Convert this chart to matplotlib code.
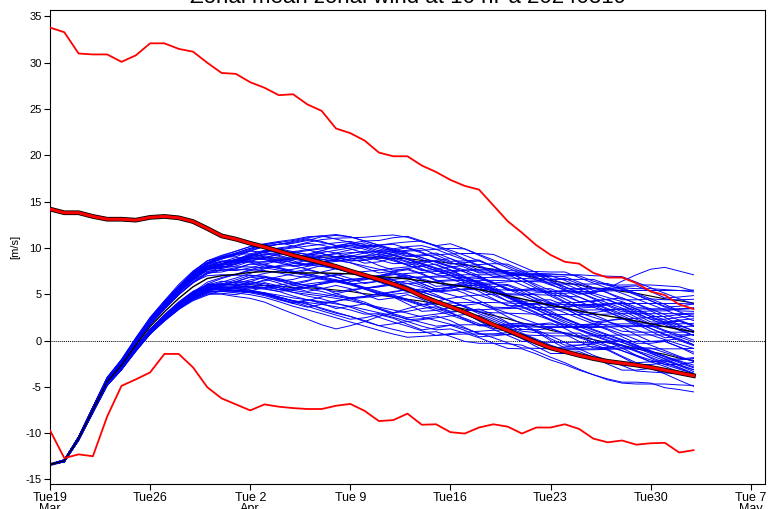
import matplotlib
matplotlib.use("Agg")
import matplotlib.pyplot as plt
import matplotlib.patheffects as pe
import numpy as np

# ---- data ----
days = list(range(46))  # Tue 19 Mar 2024 + n days

clim_max = [33.8,33.3,31.0,30.9,30.9,30.1,30.8,32.1,32.1,31.5,
            31.2,30.0,28.9,28.8,27.9,27.3,26.5,26.6,25.5,24.8,
            22.9,22.4,21.6,20.3,19.9,19.9,18.9,18.2,17.35,16.7,
            16.3,14.6,12.9,11.65,10.3,9.25,8.5,8.3,7.3,6.8,
            6.8,6.2,5.3,4.9,3.9,3.4]

clim_min = [-9.7,-12.7,-12.3,-12.5,-8.2,-4.9,-4.2,-3.45,-1.45,-1.45,
            -2.9,-5.05,-6.25,-6.9,-7.55,-6.9,-7.15,-7.3,-7.4,-7.4,
            -7.05,-6.85,-7.6,-8.7,-8.6,-7.9,-9.1,-9.05,-9.9,-10.05,
            -9.4,-9.05,-9.3,-10.05,-9.4,-9.4,-9.05,-9.55,-10.6,-11.0,
            -10.8,-11.25,-11.1,-11.05,-12.1,-11.85]

clim_mean = [14.2,13.8,13.8,13.4,13.1,13.1,13.0,13.3,13.4,13.25,
             12.85,12.1,11.3,10.95,10.5,10.1,9.65,9.2,8.8,8.4,
             8.0,7.5,7.05,6.6,6.1,5.55,4.8,4.2,3.65,3.05,
             2.4,1.7,1.1,0.45,-0.2,-0.8,-1.2,-1.6,-1.95,-2.25,
             -2.45,-2.65,-2.9,-3.2,-3.5,-3.8]

ens_mean = [-13.4,-13.0,-10.6,-7.5,-4.45,-2.65,-0.5,1.5,3.1,4.55,
            5.8,6.7,7.0,7.15,7.35,7.45,7.4,7.3,7.3,7.3,
            7.25,7.2,7.05,6.9,6.8,6.65,6.45,6.25,6.05,5.8,
            5.5,5.2,4.85,4.5,4.15,3.8,3.5,3.2,2.9,2.65,
            2.4,2.1,1.8,1.5,1.2,0.95]

# ensemble spread (half-width of the thin black band around the mean)
ens_spread = [0.1,0.1,0.15,0.3,0.4,0.5,0.6,0.8,0.9,1.0,
              1.1,1.2,1.3,1.4,1.5,1.5,1.5,1.6,1.6,1.7,
              1.8,1.9,2.0,2.0,2.1,2.2,2.2,2.3,2.3,2.4,
              2.4,2.5,2.5,2.6,2.6,2.7,2.7,2.8,2.8,2.9,
              2.9,3.0,3.0,3.0,3.1,3.1]

# hand-read deviation of each ensemble member from the ensemble mean
member_offsets = [
 [0,0.1,0.1,0.2,0.3,0.4,0.5,0.6,0.7,0.9, 1.0,1.2,1.1,1.3,1.5,1.4,1.2,1.6,1.8,1.5, 1.3,1.6,2.0,1.8,1.5,1.7,2.1,2.3,2.0,1.8, 2.2,2.5,2.3,2.6,2.4,2.2,2.0,1.8,2.2,3.0, 4.0,5.0,5.9,6.4,6.3,6.15],
 [0,0.1,0.2,0.3,0.4,0.5,0.7,0.8,1.0,1.2, 1.5,1.6,1.5,1.6,1.8,2.2,2.6,2.9,3.3,3.6, 3.8,3.9,4.1,4.4,4.6,4.5,4.2,4.0,4.4,4.1, 3.7,3.3,3.0,2.7,2.9,3.2,3.0,2.6,2.2,2.0, 1.8,1.5,1.6,1.9,2.2,2.5],
 [0,-0.1,-0.2,-0.3,-0.4,-0.5,-0.7,-0.8,-1.0,-1.2, -1.3,-1.5,-1.6,-1.8,-2.0,-2.3,-2.7,-3.0,-3.2,-3.4, -3.6,-3.9,-4.2,-4.0,-4.3,-4.6,-4.9,-5.1,-4.8,-5.0, -5.2,-5.5,-5.7,-5.4,-5.6,-5.9,-6.1,-6.4,-6.6,-6.8, -6.9,-6.6,-6.4,-6.6,-6.5,-6.5],
 [0,0,-0.1,-0.2,-0.3,-0.4,-0.6,-0.7,-0.9,-1.1, -1.4,-1.7,-2.0,-2.4,-2.8,-3.3,-3.9,-4.4,-5.0,-5.6, -6.0,-5.6,-5.0,-4.3,-3.8,-3.2,-2.6,-2.0,-1.5,-1.0, -0.6,-0.2,0.2,0.5,0.8,1.1,1.3,1.5,1.2,0.8, 0.5,0.2,-0.1,-0.4,-0.6,-0.9],
 [0,0.1,0,-0.1,-0.2,-0.3,-0.4,-0.5,-0.7,-0.9, -1.2,-1.4,-1.3,-1.5,-1.9,-2.4,-2.8,-3.0,-3.3,-3.9, -4.3,-4.6,-4.9,-5.3,-5.6,-5.8,-5.6,-5.3,-5.6,-5.9, -5.8,-5.5,-5.2,-5.0,-5.3,-5.6,-5.9,-6.3,-6.6,-6.9, -7.0,-6.8,-6.5,-6.2,-6.0,-5.8],
 [0,0.1,0.2,0.3,0.5,0.6,0.8,1.0,1.2,1.5, 1.7,1.9,2.0,2.2,2.5,2.8,3.0,3.2,3.5,3.9, 4.1,4.0,3.7,3.9,4.3,4.6,4.3,3.9,3.5,3.0, 2.6,2.3,2.5,2.8,3.1,3.4,3.6,3.8,3.5,3.3, 3.6,3.9,4.2,4.4,4.6,4.4],
 [0,0,0.1,0.1,0.2,0.3,0.3,0.4,0.5,0.7, 0.9,1.0,0.8,0.9,1.2,1.5,1.9,2.2,2.0,1.7, 1.5,1.9,2.4,2.8,3.1,3.5,3.8,3.6,3.2,2.9, 2.5,2.1,1.8,1.5,1.2,1.5,1.9,2.3,2.7,3.0, 3.3,3.5,3.8,4.0,4.2,4.3],
 [0,0,-0.1,-0.1,-0.2,-0.2,-0.3,-0.4,-0.5,-0.6, -0.8,-0.9,-1.1,-1.0,-0.8,-0.6,-0.9,-1.3,-1.7,-2.0, -2.4,-2.6,-2.3,-1.9,-1.5,-1.2,-0.9,-1.3,-1.8,-2.2, -2.6,-2.9,-3.2,-3.5,-3.3,-3.0,-2.7,-2.4,-2.8,-3.2, -3.5,-3.8,-4.1,-4.3,-4.6,-4.8],
 [0,0.1,0.1,0.2,0.2,0.3,0.4,0.5,0.7,0.9, 1.0,0.8,0.6,0.4,0.5,0.8,1.2,1.6,1.3,0.9, 0.5,0.2,-0.2,-0.6,-1.0,-1.4,-1.1,-0.7,-0.3,0.1, 0.5,0.9,1.2,1.0,0.7,0.3,-0.1,-0.5,-0.8,-1.1, -1.4,-1.2,-0.9,-0.6,-0.3,0.0],
 [0,-0.1,-0.1,-0.2,-0.3,-0.4,-0.5,-0.6,-0.8,-1.0, -1.2,-1.0,-0.7,-0.4,-0.1,0.3,0.7,1.0,1.4,1.8, 2.2,2.6,3.0,3.3,3.0,2.7,2.3,1.9,1.5,1.1, 0.8,0.4,0.0,-0.4,-0.8,-1.2,-1.6,-2.0,-2.3,-2.6, -2.9,-3.2,-3.4,-3.7,-3.9,-4.1],
 [0,0,0.1,0.2,0.3,0.3,0.4,0.6,0.8,1.0, 1.3,1.6,1.8,2.1,2.3,2.1,1.8,1.5,1.2,0.9, 0.6,0.3,0.0,-0.3,-0.6,-0.9,-1.2,-1.5,-1.8,-2.1, -2.4,-2.2,-1.9,-1.6,-1.3,-1.0,-0.7,-0.4,-0.1,0.2, 0.5,0.8,1.1,1.4,1.7,2.0],
 [0,0,0,-0.1,-0.1,-0.2,-0.2,-0.3,-0.3,-0.4, -0.5,-0.7,-0.9,-1.2,-1.5,-1.8,-2.1,-2.5,-2.9,-3.2, -3.0,-2.7,-3.1,-3.5,-3.9,-4.2,-3.8,-3.4,-3.0,-2.6, -2.2,-1.8,-1.4,-1.0,-0.6,-0.2,0.2,0.6,1.0,1.3, 1.6,1.9,2.2,2.5,2.8,3.0],
 [0,0.1,0.1,0.2,0.3,0.4,0.6,0.7,0.9,1.1, 1.4,1.7,2.0,2.3,2.6,2.9,3.2,2.9,2.5,2.1, 1.7,1.4,1.6,2.0,2.4,2.1,1.8,1.5,1.9,2.3, 2.7,3.1,3.4,3.1,2.7,2.3,1.9,1.5,1.1,0.7, 0.3,-0.1,-0.5,-0.9,-1.2,-1.5],
 [0,-0.1,-0.2,-0.2,-0.3,-0.5,-0.6,-0.8,-1.0,-1.2, -1.5,-1.8,-1.6,-1.3,-1.0,-1.3,-1.7,-2.1,-2.5,-2.8, -3.2,-3.6,-4.0,-4.4,-4.8,-5.1,-5.4,-5.7,-5.3,-4.9, -4.5,-4.1,-3.7,-3.3,-3.0,-3.3,-3.7,-4.1,-4.5,-4.8, -5.1,-5.4,-5.2,-5.0,-4.8,-4.6],
 [0,0,0.1,0.1,0.2,0.3,0.4,0.5,0.6,0.8, 0.9,1.1,1.3,1.6,1.9,2.2,2.4,2.7,2.9,3.1, 3.3,3.5,3.3,3.0,2.7,2.4,2.7,3.0,3.3,3.6, 3.9,4.1,3.8,3.5,3.2,2.9,2.6,2.3,2.0,1.7, 1.4,1.1,0.8,0.5,0.2,-0.1],
 [0,0,-0.1,-0.1,-0.2,-0.3,-0.3,-0.4,-0.6,-0.7, -0.9,-0.6,-0.3,0.0,0.3,0.6,0.4,0.1,-0.2,-0.5, -0.8,-1.1,-1.4,-1.7,-2.0,-2.3,-2.6,-2.3,-2.0,-1.7, -1.4,-1.1,-0.8,-0.5,-0.2,0.1,0.4,0.7,1.0,1.3, 1.6,1.3,1.0,0.7,0.4,0.1],
 [0,0.1,0.2,0.2,0.3,0.4,0.5,0.7,0.8,1.0, 1.1,1.3,1.5,1.8,1.6,1.3,1.0,0.7,0.9,1.2, 1.5,1.8,2.1,2.4,2.7,3.0,3.3,3.6,3.9,4.1, 3.8,3.5,3.2,2.9,2.6,2.3,2.6,2.9,3.2,3.5, 3.3,3.0,2.7,2.9,3.2,3.5],
 [0,0,-0.1,-0.2,-0.2,-0.3,-0.5,-0.6,-0.7,-0.9, -1.1,-1.3,-1.5,-1.8,-2.1,-2.4,-2.7,-3.0,-3.4,-3.8, -4.2,-4.6,-5.0,-5.3,-5.0,-4.6,-4.2,-3.8,-3.4,-3.0, -2.8,-3.1,-3.4,-3.7,-4.0,-4.3,-4.5,-4.2,-3.9,-3.6, -3.3,-3.0,-2.7,-2.4,-2.1,-1.8],
 [0,0,0,0.1,0.1,0.1,0.2,0.2,0.3,0.4, 0.5,0.3,0.1,-0.1,-0.3,-0.5,-0.8,-1.1,-1.4,-1.7, -2.0,-1.7,-1.4,-1.1,-0.8,-0.5,-0.2,0.1,0.4,0.7, 1.0,1.3,1.6,1.9,2.2,2.5,2.3,2.0,1.7,1.4, 1.1,0.8,0.5,0.2,-0.1,-0.4],
 [0,0.1,0.1,0.2,0.3,0.5,0.6,0.8,1.0,1.3, 1.6,1.9,2.2,2.5,2.8,3.0,3.3,3.6,3.9,4.0, 3.7,3.4,3.1,2.8,2.5,2.2,1.9,1.6,1.3,1.0, 0.7,0.4,0.1,-0.2,-0.5,-0.8,-1.1,-1.4,-1.7,-2.0, -2.3,-2.6,-2.9,-3.2,-3.5,-3.8],
 [0,-0.1,-0.1,-0.2,-0.2,-0.3,-0.4,-0.5,-0.6,-0.8, -1.0,-1.2,-1.4,-1.7,-2.0,-1.7,-1.4,-1.1,-0.8,-0.5, -0.2,0.1,0.4,0.7,1.0,1.3,1.6,1.3,1.0,0.7, 0.4,0.1,-0.2,-0.5,-0.8,-1.1,-1.4,-1.7,-2.0,-2.3, -2.6,-2.9,-3.2,-3.5,-3.8,-4.1],
 [0,0,0.1,0.1,0.2,0.2,0.3,0.4,0.5,0.6, 0.7,0.9,1.1,1.3,1.1,0.8,0.5,0.2,-0.1,-0.4, -0.7,-1.0,-1.3,-1.6,-1.9,-2.2,-2.5,-2.8,-3.1,-3.4, -3.7,-4.0,-4.3,-4.6,-4.3,-4.0,-3.7,-3.4,-3.1,-2.8, -2.5,-2.2,-1.9,-1.6,-1.9,-2.2],
 [0,0,0,-0.1,-0.1,-0.2,-0.2,-0.3,-0.4,-0.5, -0.6,-0.8,-1.0,-0.8,-0.5,-0.2,0.1,0.4,0.7,1.0, 1.3,1.6,1.9,2.2,2.5,2.8,2.5,2.2,1.9,1.6, 1.3,1.6,1.9,2.2,2.5,2.8,3.1,3.4,3.7,3.4, 3.1,2.8,2.5,2.2,1.9,1.6],
 [0,0.1,0.1,0.2,0.2,0.3,0.4,0.5,0.6,0.8, 1.0,1.2,1.0,0.8,0.6,0.4,0.2,0.0,-0.3,-0.6, -0.9,-1.2,-1.5,-1.8,-2.1,-2.4,-2.7,-3.0,-3.3,-3.6, -3.9,-3.6,-3.3,-3.0,-2.7,-2.4,-2.1,-1.8,-1.5,-1.2, -0.9,-0.6,-0.3,0.0,0.3,0.6],
 [0,0,-0.1,-0.1,-0.1,-0.2,-0.3,-0.3,-0.4,-0.5, -0.7,-0.9,-1.1,-1.3,-1.5,-1.7,-1.9,-2.1,-2.3,-2.5, -2.7,-2.9,-3.1,-3.3,-3.5,-3.7,-3.9,-4.1,-4.3,-4.5, -4.7,-4.9,-5.1,-5.3,-5.0,-4.7,-4.4,-4.1,-3.8,-3.5, -3.2,-2.9,-2.6,-2.8,-3.0,-3.2],
 [0,0.1,0.2,0.3,0.4,0.5,0.6,0.7,0.9,1.0, 1.2,1.4,1.6,1.4,1.2,1.0,1.3,1.6,1.9,2.2, 2.5,2.8,3.1,3.4,3.7,4.0,4.3,4.0,3.7,3.4, 3.1,2.8,2.5,2.2,1.9,1.6,1.3,1.0,0.7,0.4, 0.1,-0.2,-0.5,-0.8,-1.1,-1.4],
 [0,-0.1,-0.1,-0.1,-0.2,-0.2,-0.3,-0.3,-0.4,-0.5, -0.6,-0.4,-0.2,0.0,0.2,0.4,0.6,0.8,1.0,1.2, 1.4,1.2,1.0,0.8,0.6,0.4,0.2,0.0,-0.2,-0.4, -0.6,-0.8,-1.0,-1.2,-1.4,-1.6,-1.8,-2.0,-2.2,-2.4, -2.6,-2.8,-3.0,-3.2,-3.4,-3.6],
 [0,0,0.1,0.2,0.2,0.3,0.4,0.5,0.7,0.8, 1.0,1.1,1.3,1.5,1.7,1.9,2.1,2.3,2.5,2.7, 2.9,3.1,2.8,2.5,2.2,1.9,1.6,1.3,1.0,0.7, 0.4,0.1,-0.2,-0.5,-0.8,-0.5,-0.2,0.1,0.4,0.7, 1.0,1.3,1.6,1.9,2.2,2.5],
 [0,0,-0.1,-0.2,-0.3,-0.3,-0.4,-0.5,-0.7,-0.8, -1.0,-1.2,-1.5,-1.8,-2.2,-2.6,-3.0,-3.3,-3.0,-2.6, -2.2,-1.8,-1.4,-1.0,-0.6,-0.9,-1.2,-1.5,-1.8,-2.1, -2.4,-2.7,-3.0,-2.7,-2.4,-2.1,-1.8,-1.5,-1.2,-0.9, -0.6,-0.3,0.0,0.3,0.6,0.9],
 [0,0.1,0.1,0.2,0.3,0.4,0.5,0.6,0.8,1.0, 1.2,1.5,1.8,2.1,2.4,2.7,3.0,3.3,3.6,3.3, 3.0,2.7,2.4,2.1,1.8,1.5,1.2,0.9,0.6,0.3, 0.0,-0.3,-0.6,-0.9,-1.2,-1.5,-1.8,-2.1,-2.4,-2.7, -3.0,-3.3,-3.6,-3.9,-4.2,-4.5],
 [0,0,0,0.1,0.1,0.2,0.2,0.3,0.3,0.4, 0.5,0.6,0.7,0.5,0.3,0.1,-0.1,-0.3,-0.5,-0.7, -0.9,-1.1,-0.8,-0.5,-0.2,0.1,0.4,0.7,1.0,1.3, 1.6,1.9,2.2,2.5,2.8,3.1,3.4,3.1,2.8,2.5, 2.2,1.9,1.6,1.3,1.0,0.7],
 [0,-0.1,-0.2,-0.3,-0.4,-0.5,-0.6,-0.8,-0.9,-1.1, -1.3,-1.5,-1.7,-1.9,-2.1,-2.3,-2.5,-2.7,-2.9,-3.1, -3.3,-3.5,-3.7,-3.9,-4.1,-4.3,-4.5,-4.7,-4.4,-4.1, -3.8,-3.5,-3.2,-2.9,-2.6,-2.3,-2.0,-1.7,-1.4,-1.1, -0.8,-0.5,-0.2,-0.5,-0.8,-1.1],
 [0,0.1,0.1,0.2,0.2,0.3,0.3,0.4,0.5,0.6, 0.8,1.0,1.2,1.4,1.6,1.8,2.0,2.2,2.4,2.6, 2.8,3.0,3.2,3.4,3.6,3.3,3.0,2.7,2.4,2.1, 1.8,2.1,2.4,2.7,3.0,3.3,3.6,3.9,4.1,4.3, 4.5,4.2,3.9,3.6,3.3,3.0],
 [0,0,-0.1,-0.1,-0.2,-0.2,-0.3,-0.4,-0.4,-0.5, -0.6,-0.7,-0.9,-1.1,-1.3,-1.5,-1.7,-1.9,-2.1,-2.3, -2.5,-2.7,-2.4,-2.1,-1.8,-1.5,-1.2,-0.9,-0.6,-0.3, 0.0,0.3,0.6,0.9,1.2,1.5,1.8,2.1,2.4,2.7, 3.0,3.3,3.6,3.9,4.2,4.5],
 [0,0,0.1,0.1,0.1,0.2,0.2,0.3,0.3,0.4, 0.4,0.5,0.6,0.7,0.9,1.1,1.3,1.5,1.7,1.9, 2.1,2.3,2.5,2.7,2.4,2.1,1.8,1.5,1.2,0.9, 0.6,0.3,0.0,-0.3,-0.6,-0.9,-1.2,-1.5,-1.8,-2.1, -2.4,-2.7,-3.0,-3.3,-3.6,-3.9],
 [0,0,-0.1,-0.1,-0.2,-0.3,-0.4,-0.5,-0.6,-0.7, -0.8,-1.0,-1.2,-1.4,-1.6,-1.8,-1.6,-1.4,-1.2,-1.0, -0.8,-0.6,-0.4,-0.2,0.0,0.2,0.4,0.6,0.8,1.0, 1.2,1.0,0.8,0.6,0.4,0.2,0.0,-0.2,-0.4,-0.6, -0.8,-1.0,-1.2,-1.4,-1.6,-1.8],
 [0,0,-0.1,-0.2,-0.3,-0.4,-0.5,-0.6,-0.8,-1.0, -1.2,-1.4,-1.7,-2.0,-2.4,-2.8,-3.2,-3.6,-4.0,-4.4, -4.8,-5.2,-5.5,-5.8,-6.1,-6.3,-6.0,-5.7,-5.4,-5.1, -4.8,-4.5,-4.2,-3.9,-3.6,-3.3,-3.0,-2.7,-2.4,-2.1, -1.8,-1.5,-1.2,-0.9,-0.6,-0.3],
 [0,0.1,0.2,0.3,0.4,0.5,0.7,0.9,1.1,1.3, 1.5,1.7,2.0,2.3,2.6,2.9,3.2,3.5,3.8,4.0, 4.2,4.0,3.7,3.4,3.1,2.8,2.5,2.2,1.9,1.6, 1.3,1.0,0.7,0.4,0.1,-0.2,-0.5,-0.8,-1.1,-1.4, -1.7,-2.0,-2.3,-2.6,-2.9,-3.2],
 [0,0,0,0,0.1,0.1,0.2,0.2,0.3,0.4, 0.5,0.7,0.9,1.1,1.3,1.5,1.3,1.1,0.9,0.7, 0.5,0.3,0.1,-0.1,-0.3,-0.5,-0.7,-0.9,-1.1,-1.3, -1.5,-1.7,-1.9,-2.1,-2.3,-2.5,-2.7,-2.9,-3.1,-3.3, -3.5,-3.7,-3.9,-4.1,-4.3,-4.5],
 [0,-0.1,-0.1,-0.2,-0.3,-0.3,-0.4,-0.5,-0.6,-0.7, -0.9,-1.1,-1.3,-1.5,-1.7,-1.9,-2.1,-1.8,-1.5,-1.2, -0.9,-0.6,-0.3,0.0,0.3,0.6,0.9,1.2,1.5,1.8, 2.1,2.4,2.7,3.0,3.3,3.6,3.9,3.6,3.3,3.0, 2.7,2.4,2.1,1.8,1.5,1.2],
 [0,0.1,0.1,0.2,0.3,0.3,0.4,0.5,0.6,0.8, 1.0,1.1,0.9,1.2,1.5,1.3,1.0,1.4,1.9,2.1, 1.8,1.4,1.7,2.2,2.0,1.5,1.1,1.4,1.0,0.5, 0.2,0.6,1.1,0.8,0.3,-0.2,0.1,0.6,0.9,0.5, 0.0,-0.5,-0.2,0.4,0.9,0.6],
 [0,-0.1,-0.1,-0.2,-0.3,-0.4,-0.5,-0.6,-0.8,-0.9, -1.1,-1.3,-1.1,-0.8,-1.0,-1.5,-1.9,-1.7,-1.3,-1.6, -2.2,-2.6,-2.3,-1.8,-2.1,-2.7,-3.3,-3.0,-2.5,-2.8, -3.4,-3.9,-3.5,-2.9,-3.2,-3.8,-4.3,-4.0,-3.5,-3.7, -4.2,-4.7,-4.4,-3.9,-4.1,-4.5],
 [0,0.1,0.2,0.3,0.4,0.5,0.7,0.8,1.0,1.2, 1.4,1.7,2.0,1.9,2.3,2.7,2.5,2.8,3.2,3.0, 2.7,3.1,3.5,3.2,2.8,3.1,3.5,3.0,2.5,2.8, 3.2,2.8,2.3,2.6,3.0,2.6,2.1,2.4,2.8,2.5, 2.0,2.3,2.7,2.4,2.0,2.2],
 [0,0,-0.1,-0.1,-0.2,-0.3,-0.3,-0.4,-0.6,-0.7, -0.8,-0.6,-0.9,-1.2,-1.0,-0.6,-0.9,-1.3,-0.9,-0.4, -0.1,-0.5,-0.9,-0.5,0.0,0.4,0.1,-0.4,-0.1,0.5, 0.9,0.6,0.1,0.4,1.0,1.4,1.0,0.5,0.8,1.3, 1.7,1.3,0.8,1.1,1.6,1.9],
 [0,0.1,0.1,0.2,0.3,0.4,0.5,0.6,0.7,0.9, 1.2,1.4,1.3,1.6,2.0,2.3,2.1,1.7,2.0,2.4, 2.2,1.7,1.3,1.6,2.1,1.8,1.3,0.9,1.3,1.8, 1.5,1.0,0.6,1.0,1.5,1.2,0.7,0.3,0.7,1.2, 0.9,0.4,0.0,0.4,0.9,0.6],
 [0,-0.1,-0.1,-0.2,-0.4,-0.5,-0.6,-0.8,-0.9,-1.1, -1.4,-1.6,-1.9,-2.2,-2.0,-2.4,-2.9,-3.2,-2.9,-3.3, -3.8,-3.5,-3.1,-3.5,-4.0,-4.4,-4.1,-3.6,-3.9,-4.4, -4.8,-4.5,-4.0,-4.3,-4.8,-5.2,-4.9,-4.4,-4.7,-5.2, -5.6,-5.3,-4.8,-5.1,-5.5,-5.9],
 [0,0,0.1,0.1,0.2,0.3,0.3,0.4,0.5,0.6, 0.8,1.0,1.2,1.1,1.4,1.7,1.5,1.1,0.8,1.1, 1.5,1.2,0.8,0.4,0.7,1.1,0.8,0.3,-0.1,0.3, 0.7,0.4,-0.1,-0.5,-0.2,0.3,0.0,-0.5,-0.9,-0.5, 0.0,-0.3,-0.8,-1.2,-0.8,-0.3],
 [0,0,-0.1,-0.1,-0.1,-0.2,-0.2,-0.3,-0.4,-0.4, -0.5,-0.7,-0.6,-0.9,-1.2,-1.0,-0.7,-1.0,-1.4,-1.2, -0.8,-1.1,-1.5,-1.9,-1.6,-1.1,-1.4,-1.9,-2.3,-2.0, -1.5,-1.8,-2.3,-2.7,-2.4,-1.9,-2.2,-2.7,-3.1,-2.8, -2.3,-2.6,-3.1,-3.5,-3.2,-2.8],
 [0,0.1,0.2,0.3,0.4,0.6,0.7,0.9,1.1,1.3, 1.6,1.9,2.1,2.5,2.8,2.6,3.0,3.4,3.7,3.4, 3.0,3.3,3.7,3.4,2.9,2.5,2.8,3.2,2.8,2.3, 1.9,2.2,2.6,2.2,1.7,1.3,1.6,2.0,1.6,1.1, 0.7,1.0,1.4,1.0,0.5,0.1],
 [0,-0.1,-0.1,-0.2,-0.2,-0.3,-0.4,-0.5,-0.6,-0.7, -0.9,-1.1,-1.3,-1.6,-1.9,-2.3,-2.7,-3.1,-3.6,-4.1, -4.5,-4.9,-4.6,-4.1,-4.4,-4.9,-5.3,-4.9,-4.4,-4.7, -5.1,-4.7,-4.2,-3.8,-4.1,-4.6,-4.2,-3.7,-3.3,-3.6, -4.1,-4.5,-4.1,-3.6,-3.9,-4.3],
 [0,0,0.1,0.2,0.2,0.3,0.5,0.6,0.7,0.9, 1.1,1.3,1.5,1.4,1.7,2.1,2.5,2.3,2.0,2.4, 2.9,3.3,3.0,2.6,2.9,3.4,3.1,2.6,2.2,2.6, 3.1,2.8,2.3,1.9,2.3,2.8,3.2,2.9,2.5,2.9, 3.4,3.8,3.5,3.1,3.5,3.9],
 [0,-0.1,-0.2,-0.2,-0.3,-0.4,-0.5,-0.7,-0.8,-1.0, -1.2,-1.1,-1.4,-1.8,-1.6,-1.2,-1.5,-1.9,-1.6,-1.1, -0.7,-1.0,-1.4,-1.1,-0.6,-0.2,-0.5,-1.0,-0.7,-0.2, 0.2,-0.1,-0.6,-0.3,0.2,0.6,0.3,-0.2,0.1,0.6, 1.0,0.7,0.2,0.5,1.0,1.4],
 [0,0.1,0.1,0.2,0.2,0.3,0.4,0.4,0.5,0.6, 0.7,0.6,0.4,0.6,0.9,0.7,0.4,0.1,0.4,0.8, 0.5,0.1,-0.3,0.1,0.5,0.2,-0.3,-0.7,-0.3,0.2, -0.2,-0.7,-1.1,-0.7,-0.2,-0.6,-1.1,-1.5,-1.1,-0.6, -1.0,-1.5,-1.9,-1.5,-1.0,-1.4],
 [0,0,-0.1,-0.2,-0.3,-0.3,-0.4,-0.5,-0.7,-0.8, -1.0,-1.2,-1.5,-1.8,-2.1,-2.5,-2.9,-3.3,-3.7,-3.4, -3.0,-2.6,-2.9,-3.4,-3.8,-3.5,-3.0,-2.6,-3.0,-3.5, -3.9,-3.6,-3.1,-2.7,-3.1,-3.6,-4.0,-3.7,-3.2,-2.8, -3.2,-3.7,-4.1,-3.8,-3.3,-2.9],
 [0,0.1,0.1,0.1,0.2,0.3,0.3,0.4,0.5,0.7, 0.8,1.0,1.2,1.5,1.8,2.1,2.4,2.1,1.7,1.4, 1.8,2.2,2.6,2.3,1.9,1.5,1.9,2.4,2.8,2.5, 2.1,1.7,2.1,2.6,3.0,2.7,2.3,1.9,2.3,2.8, 3.2,2.9,2.5,2.1,2.5,3.0],
 [0,0,0,-0.1,-0.1,-0.2,-0.3,-0.3,-0.4,-0.5, -0.6,-0.8,-1.0,-0.8,-0.5,-0.8,-1.2,-1.6,-2.0,-1.7, -1.3,-1.6,-2.1,-2.5,-2.2,-1.7,-2.0,-2.5,-2.9,-2.6, -2.1,-2.4,-2.9,-3.3,-3.0,-2.5,-2.8,-3.3,-3.7,-3.4, -2.9,-3.2,-3.7,-4.1,-3.8,-3.3],
 [0,0.1,0.2,0.2,0.3,0.4,0.5,0.6,0.8,1.0, 1.2,1.0,0.8,1.1,1.5,1.9,1.7,1.3,0.9,1.2, 1.6,2.0,1.7,1.2,0.8,1.1,1.6,2.0,1.6,1.1, 0.7,1.0,1.5,1.9,1.5,1.0,0.6,0.9,1.4,1.8, 1.4,0.9,0.5,0.8,1.3,1.7],
 [0,-0.1,-0.1,-0.1,-0.2,-0.3,-0.4,-0.4,-0.5,-0.6, -0.8,-1.0,-0.9,-0.6,-0.3,-0.6,-1.0,-0.7,-0.3,0.1, 0.5,0.2,-0.2,0.1,0.6,1.0,0.7,0.2,0.5,1.0, 1.4,1.1,0.6,0.9,1.4,1.8,1.5,1.0,1.3,1.8, 2.2,1.9,1.4,1.7,2.2,2.6],
 [0,0.1,0.1,0.2,0.3,0.4,0.6,0.7,0.9,1.1, 1.3,1.6,1.9,2.2,2.0,1.6,1.2,0.8,0.4,0.0, -0.4,-0.8,-0.5,0.0,-0.3,-0.8,-1.2,-0.9,-0.4,-0.7, -1.2,-1.6,-1.3,-0.8,-1.1,-1.6,-2.0,-1.7,-1.2,-1.5, -2.0,-2.4,-2.1,-1.6,-1.9,-2.4],
 [0,0,-0.1,-0.1,-0.2,-0.2,-0.3,-0.4,-0.5,-0.6, -0.7,-0.9,-1.2,-1.5,-1.3,-0.9,-0.5,-0.1,0.3,0.0, -0.4,-0.8,-0.4,0.0,0.4,0.1,-0.3,-0.7,-0.3,0.1, 0.5,0.2,-0.2,-0.6,-0.2,0.2,0.6,0.3,-0.1,-0.5, -0.1,0.3,0.7,0.4,0.0,-0.4],
]

xtick_days = [0, 7, 14, 21, 28, 35, 42, 49]
xtick_labels = ["Tue19\nMar", "Tue26", "Tue 2\nApr", "Tue 9", "Tue16",
                "Tue23", "Tue30", "Tue 7\nMay"]
yticks = [-15, -10, -5, 0, 5, 10, 15, 20, 25, 30, 35]
title = "Zonal mean zonal wind at 10 hPa 20240319"

# ---- figure ----
plt.rcParams['font.family'] = ['Liberation Sans', 'DejaVu Sans']
fig = plt.figure(figsize=(7.7, 5.09), dpi=100)
ax = fig.add_axes([50/770, 25/509, 715/770, 474/509])

x = np.array(days)
mean = np.array(ens_mean)
spread = np.array(ens_spread)

# thin black spread lines, partly hidden under the members
ax.plot(x, mean + spread, color='black', lw=0.8, zorder=1.8)
ax.plot(x, mean - spread, color='black', lw=0.8, zorder=1.8)

for off in member_offsets:
    ax.plot(x, mean + np.array(off), color='#0000ff', lw=0.7, zorder=2)

ax.plot(x, mean, color='black', lw=1.0, zorder=3)
ax.axhline(0, color='black', lw=0.7, ls=(0, (1, 1)), zorder=1)

ax.plot(x, clim_max, color='#ff0000', lw=1.3, zorder=4)
ax.plot(x, clim_min, color='#ff0000', lw=1.3, zorder=4)
ax.plot(x, clim_mean, color='#ff0000', lw=2.2, zorder=5,
        path_effects=[pe.Stroke(linewidth=3.4, foreground='black'), pe.Normal()])

ax.set_xlim(0, 50)
ax.set_ylim(-15.5, 35.7)
ax.set_yticks(yticks)
ax.set_yticklabels([str(v) for v in yticks], fontsize=8)
ax.set_xticks(xtick_days)
ax.set_xticklabels(xtick_labels, fontsize=9,
                   family=['Liberation Sans Narrow', 'Liberation Sans', 'DejaVu Sans'],
                   linespacing=0.85)
ax.tick_params(axis='both', direction='out', length=4, width=0.8, pad=2)
ax.set_ylabel("[m/s]", fontsize=8, labelpad=4)
for s in ax.spines.values():
    s.set_linewidth(0.8)
ax.set_title(title, fontsize=16, pad=5)

fig.savefig("out.png", dpi=100)
